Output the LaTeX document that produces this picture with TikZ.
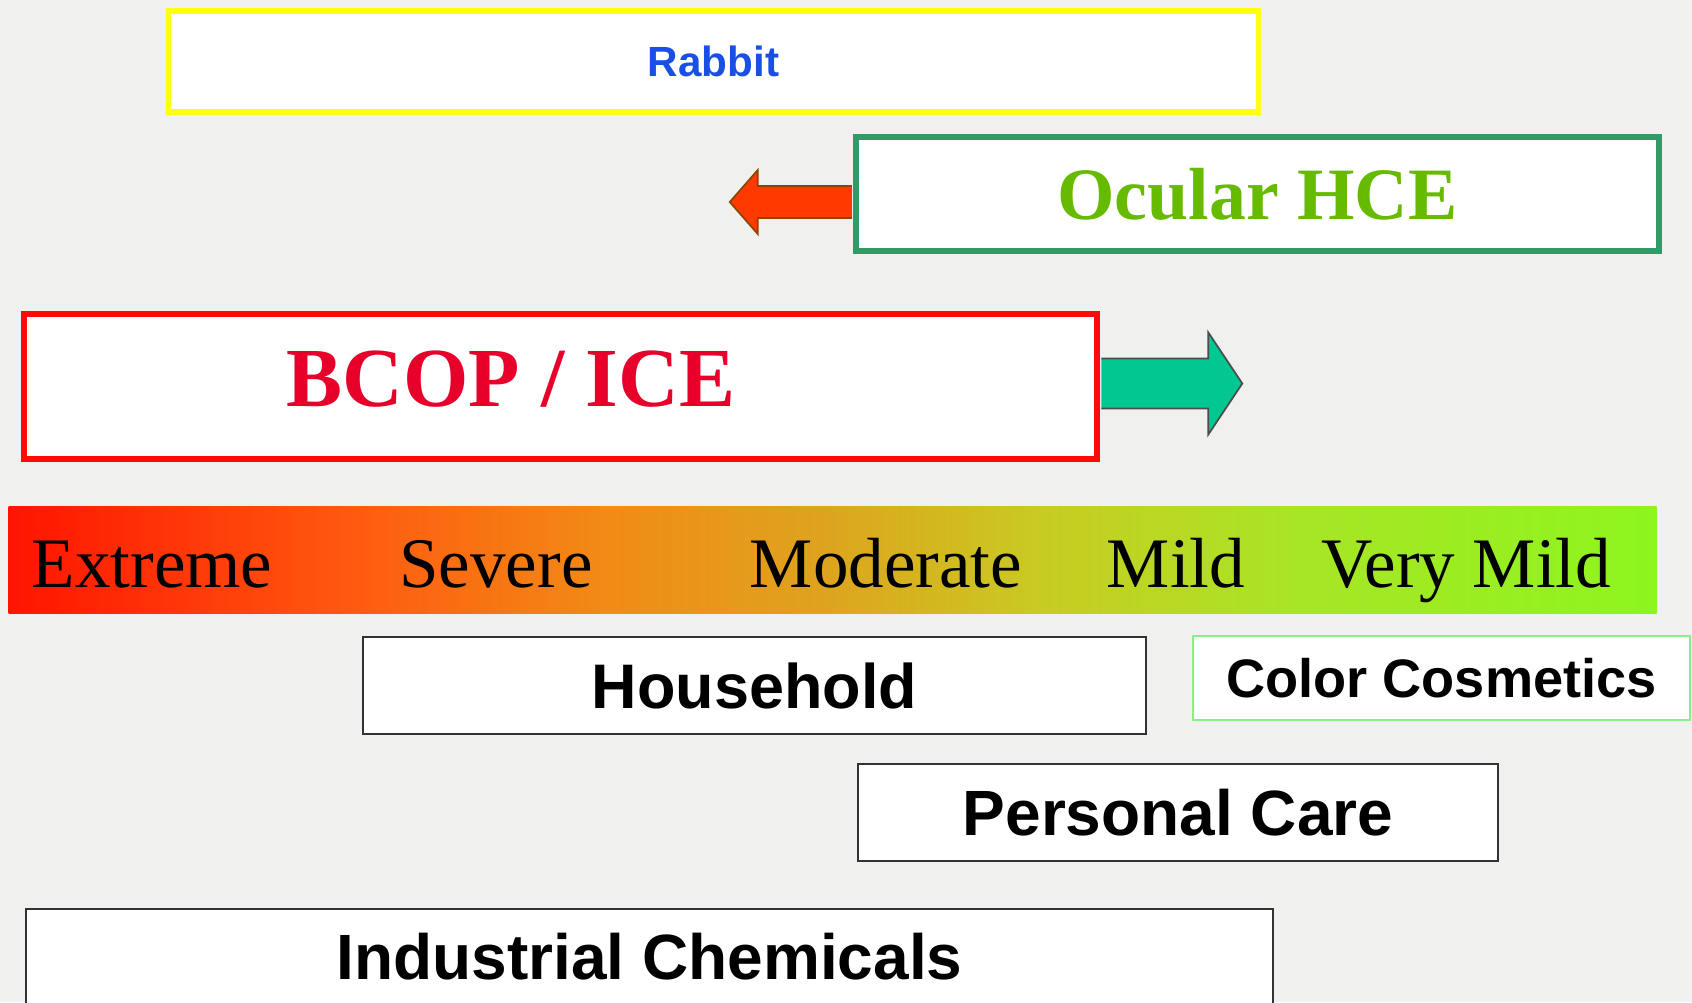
\documentclass[tikz,border=0pt]{standalone}
\usepackage{fontspec}
\setmainfont{Liberation Serif}
\setsansfont{Liberation Sans}
\usetikzlibrary{positioning, calc}
\definecolor{BGGRAY}{HTML}{F0F0EE}
\definecolor{RABBITYEL}{HTML}{FFFF10}
\definecolor{RABBITBLUE}{HTML}{1A4FE6}
\definecolor{HCEGREEN}{HTML}{339966}
\definecolor{HCETEXT}{HTML}{66BB00}
\definecolor{BCOPRED}{HTML}{FF0A0A}
\definecolor{BCOPTEXT}{HTML}{E6002A}
\definecolor{ARRRED}{HTML}{FF3A00}
\definecolor{ARRGREEN}{HTML}{00C890}
\definecolor{COSMGREEN}{HTML}{88EE88}
\definecolor{SEVA}{HTML}{FF1400}
\definecolor{SEVB}{HTML}{FF5A10}
\definecolor{SEVC}{HTML}{F28A15}
\definecolor{SEVD}{HTML}{DDA51E}
\definecolor{SEVE}{HTML}{C8CC22}
\definecolor{SEVF}{HTML}{A8E525}
\definecolor{SEVG}{HTML}{8EF51E}
\pgfdeclarehorizontalshading{severity}{100bp}{color(0bp)=(SEVA); color(25bp)=(SEVA);
  color(35.5bp)=(SEVB); color(43bp)=(SEVC); color(50bp)=(SEVD); color(56.5bp)=(SEVE);
  color(64bp)=(SEVF); color(75bp)=(SEVG); color(100bp)=(SEVG)}

\begin{document}
\begin{tikzpicture}[x=0.01cm, y=-0.01cm,
    assay/.style={fill=white, inner sep=0pt},
    product/.style={draw=black!80, line width=0.6pt, fill=white, inner sep=0pt,
                    font=\sffamily\bfseries\fontsize{17.9}{20}\selectfont},
    level/.style={anchor=base, inner sep=0pt, font=\fontsize{20.2}{24}\selectfont},
    blockarr/.style={line width=0.5pt, line join=miter}
  ]
    \useasboundingbox (0,0) rectangle (1692,1002);
    \clip (0,0) rectangle (1692,1002);
    \fill[BGGRAY] (0,0) rectangle (1692,1002);

    % test methods
    \node[assay, draw=RABBITYEL, line width=1.5pt, minimum width=108.9mm, minimum height=10.1mm,
          text=RABBITBLUE, font=\sffamily\bfseries\fontsize{12}{14}\selectfont] (rabbit) at (713.5,61.5) {Rabbit};
    \node[assay, draw=HCEGREEN, line width=1.7pt, minimum width=80.3mm, minimum height=11.4mm,
          text=HCETEXT, font=\bfseries\fontsize{21}{24}\selectfont] (hce) at (1257.5,194) {Ocular HCE};
    \node[assay, draw=BCOPRED, line width=1.7pt, minimum width=107.3mm, minimum height=14.5mm] (bcop) at (560.5,386.5) {};
    \node[inner sep=0pt, text=BCOPTEXT, font=\bfseries\fontsize{23.9}{28}\selectfont] (bcoptext)
          at ($(bcop.center)+(-49.5,-7.5)$) {BCOP / ICE};

    % range arrows
    \filldraw[blockarr, fill=ARRRED, draw=black!45!orange] ($(hce.west)+(-1,-8)$) -- ++(-94,0) -- ++(0,-16)
          -- ++(-28,32) -- ++(28,32) -- ++(0,-16) -- ++(94,0);
    \filldraw[blockarr, fill=ARRGREEN, draw=black!70] ($(bcop.east)+(1,-28)$) -- ++(107,0) -- ++(0,-26)
          -- ++(34,51) -- ++(-34,51) -- ++(0,-26) -- ++(-107,0);

    % severity scale
    \node[inner sep=0pt, shading=severity, minimum width=164.7mm, minimum height=10.6mm] (scale) at (832.5,560) {};
    \node[level] (extreme)  at (152,587)  {Extreme};
    \node[level] (severe)   at (496,587)  {Severe};
    \node[level] (moderate) at (886,587)  {Moderate};
    \node[level] (mild)     at (1176,587) {Mild};
    \node[level] (verymild) at (1466,587) {Very Mild};

    % product classes
    \node[product, minimum width=78.3mm, minimum height=9.7mm] (household) at (754.5,685.5) {Household};
    \node[product, draw=COSMGREEN, minimum width=49.7mm, minimum height=8.4mm,
          font=\sffamily\bfseries\fontsize{15.4}{18}\selectfont] (cosmetics) at (1441.5,678) {Color Cosmetics};
    \node[product, minimum width=64mm, minimum height=9.7mm,
          font=\sffamily\bfseries\fontsize{18.2}{21}\selectfont] (personal) at (1178,812.5) {Personal Care};
    \node[product, minimum width=124.7mm, minimum height=9.6mm,
          font=\sffamily\bfseries\fontsize{18.2}{21}\selectfont] (industrial) at (649.5,957) {Industrial Chemicals};
\end{tikzpicture}
\end{document}
